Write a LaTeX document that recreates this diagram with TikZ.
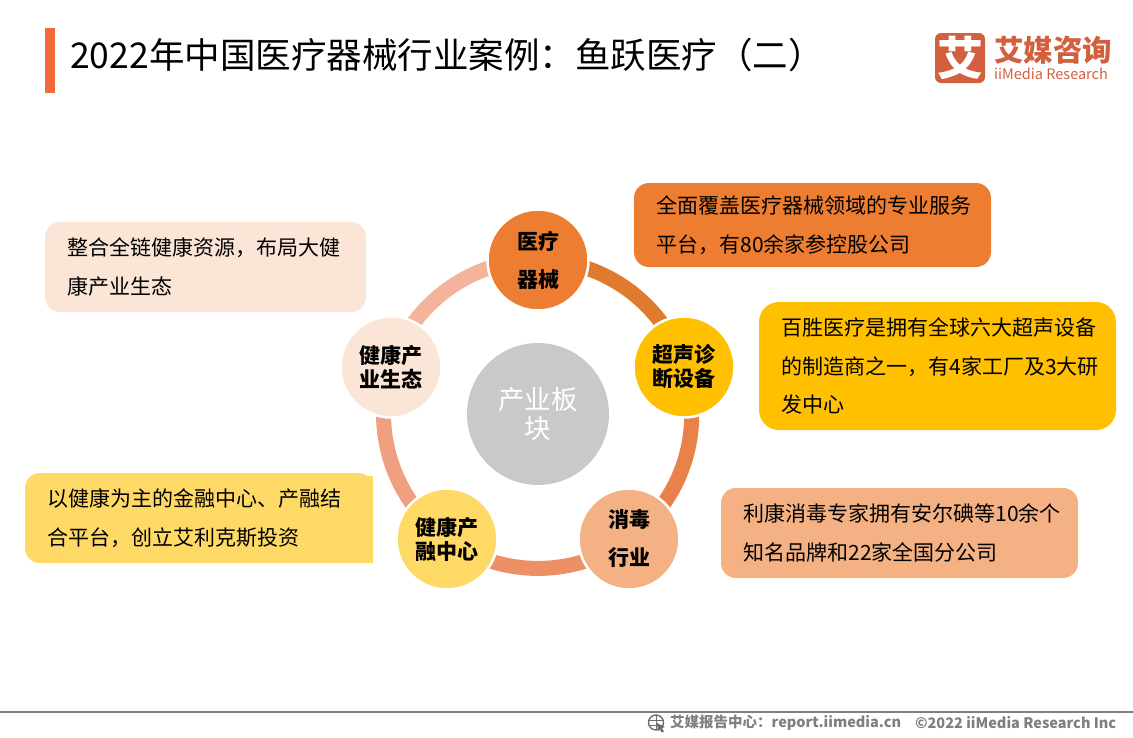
\documentclass[tikz,border=0pt]{standalone}
\usepackage{fontspec}
\setmainfont{Noto Sans CJK SC}
\usepackage{tikz}
\usetikzlibrary{backgrounds}
\definecolor{barorange}{HTML}{F4693A}
\definecolor{logored}{HTML}{D2603F}
\definecolor{footgray}{HTML}{7F7F7F}
\definecolor{medcol}{HTML}{ED7D31}
\definecolor{echocol}{HTML}{FFC000}
\definecolor{cleancol}{HTML}{F4B183}
\definecolor{fundcol}{HTML}{FFD966}
\definecolor{ecocol}{HTML}{FBE5D6}
\definecolor{linka}{HTML}{E07A2E}
\definecolor{linkb}{HTML}{E8824A}
\definecolor{linkc}{HTML}{EE9066}
\definecolor{linkd}{HTML}{F0A080}
\definecolor{linke}{HTML}{F4B49B}
\begin{document}
\begin{tikzpicture}[x = 1pt, y = -1pt,
                    sector/.style = {circle, draw = white, line width = 2.5pt, fill = #1, minimum size = 101pt, inner sep = 0pt, align = center, font = \fontsize{21}{24}\selectfont\bfseries},
                    wide/.style = {font = \fontsize{21}{38}\selectfont\bfseries},
                    link/.style = {line width = 15pt, draw = #1},
                    callout/.style 2 args = {rounded corners = 15pt, fill = #1, minimum width = #2, text width = #2 - 20pt, inner xsep = 10pt, inner ysep = 0pt, align = left, font = \fontsize{21}{38.5}\selectfont, execute at begin node = {\leftskip = 12.5pt\relax}}]
      \useasboundingbox (0, 0) rectangle (1133, 737);

      % heading
      \fill [barorange] (45, 28) rectangle (55, 93);
      \node [anchor = west, inner sep = 0pt, font = \fontsize{35.5}{40}\selectfont] (title) at (70, 55) {2022年中国医疗器械行业案例：鱼跃医疗（二）};

      % logo
      \node [fill = logored, rounded corners = 6pt, minimum size = 50pt, inner sep = 0pt, text = white, font = \fontsize{46}{46}\selectfont\bfseries] (logomark) at (960, 58) {艾};
      \node [anchor = west, inner sep = 0pt, text = logored, font = \fontsize{29.5}{30}\selectfont\bfseries] (logoname) at (994, 50) {艾媒咨询};
      \node [anchor = west, inner sep = 0pt, text = logored, font = \fontsize{14.5}{15}\selectfont] (logoen) at (994, 74) {iiMedia Research};

      % wheel
      \node [circle, fill = black!21, minimum size = 142pt, inner sep = 0pt, align = center, text = white, font = \fontsize{26.5}{29}\selectfont] (hub) at (538, 414) {产业板\\块};
      \node [sector = medcol, wide] (med) at (538, 260) {医疗\\器械};
      \node [sector = echocol] (echo) at (684, 367) {超声诊\\断设备};
      \node [sector = cleancol, wide] (clean) at (629, 539) {消毒\\行业};
      \node [sector = fundcol] (fund) at (447, 539) {健康产\\融中心};
      \node [sector = ecocol] (eco) at (391, 367) {健康产\\业生态};

      \begin{scope}[on background layer]
        \draw [link = linka] (med.center) to [bend left = 36, looseness = 0.94] (echo.center);
        \draw [link = linkb] (echo.center) to [bend left = 36, looseness = 0.94] (clean.center);
        \draw [link = linkc] (clean.center) to [bend left = 36, looseness = 0.94] (fund.center);
        \draw [link = linkd] (fund.center) to [bend left = 36, looseness = 0.94] (eco.center);
        \draw [link = linke] (eco.center) to [bend left = 36, looseness = 0.94] (med.center);
      \end{scope}

      % callouts
      \node [callout = {medcol}{357pt}, minimum height = 84pt] (medtext) at (812.5, 225) {全面覆盖医疗器械领域的专业服务\\平台，有80余家参控股公司};
      \node [callout = {echocol}{357pt}, minimum height = 128pt, rounded corners = 20pt] (echotext) at (937.5, 366) {百胜医疗是拥有全球六大超声设备\\的制造商之一，有4家工厂及3大研\\发中心};
      \node [callout = {cleancol}{357pt}, minimum height = 90pt] (cleantext) at (899.5, 533) {利康消毒专家拥有安尔碘等10余个\\知名品牌和22家全国分公司};
      \fill [fundcol] (350, 476) rectangle (373, 563);
      \node [callout = {fundcol}{348pt}, minimum height = 90pt] (fundtext) at (199, 518) {以健康为主的金融中心、产融结\\合平台，创立艾利克斯投资};
      \node [callout = {ecocol}{321pt}, minimum height = 90pt] (ecotext) at (205.5, 267) {整合全链健康资源，布局大健\\康产业生态};

      % footer
      \draw [footgray, line width = 1.5pt] (0, 712) -- (1133, 712);
      \draw [footgray!85!black, line width = 1.4pt] (656, 722.5) circle (7.5);
      \draw [footgray!85!black, line width = 1pt] (649, 720) -- (663, 720) (649, 725) -- (663, 725) (656, 715) -- (656, 730);
      \fill [footgray!85!black] (657, 723) -- (665, 727) -- (662, 728) -- (664, 732) -- (661, 732) -- (660, 729) -- (658, 731) -- cycle;
      \node [anchor = west, inner sep = 0pt, text = footgray, font = \fontsize{14.5}{16}\selectfont\bfseries] (footsite) at (670, 723) {艾媒报告中心：report.iimedia.cn};
      \node [anchor = west, inner sep = 0pt, text = footgray, font = \fontsize{14.5}{16}\selectfont\bfseries] (footcopy) at (915, 723) {©2022 iiMedia Research Inc};
\end{tikzpicture}
\end{document}
